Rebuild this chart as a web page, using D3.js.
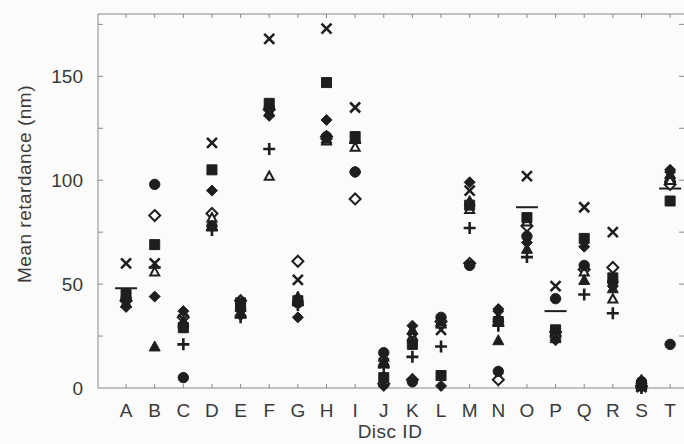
<!DOCTYPE html>
<html>
<head>
<meta charset="utf-8">
<script src="https://cdn.jsdelivr.net/npm/d3@7"></script>
<style>
  body { margin: 0; background: #fbfbfb; }
  text { font-family: "Liberation Sans", Arial, sans-serif; fill: #3a3a3a; }
</style>
</head>
<body>
<div id="chart"></div>
<script>
const ancho = 684;
const alto = 444;

const discos = ["A","B","C","D","E","F","G","H","I","J","K","L","M","N","O","P","Q","R","S","T"];

// one value per disc, per marker type
const cruz      = [60, 60, 33, 118, 40, 168, 52, 173, 135, 12, 24, 28, 95, 35, 102, 49, 87, 75, 0.5, 102];
const cuadrado  = [45, 69, 29, 105, 41, 137, 42, 147, 121, 5, 21, 6, 88, 32, 82, 28, 72, 53, 1, 90];
const rombo     = [39, 44, 37, 95, 35, 131, 34, 129, 104, 1, 30, 1, 99, 38, 70, 23, 68, 49, 2, 105];
const circulo   = [43, 98, 5, 78, 38, 135, 41, 121, 104, 17, 3, 34, 59, 8, 73, 43, 59, 51, 3, 21];
const triLleno  = [41, 20, 31, 78, 36, 133, 44, 120, 120, 13, 28, 32, 90, 23, 67, 24, 52, 48, 4, 103];
const triVacio  = [44, 56, 32, 82, 39, 102, 43, 119, 116, 15, 25, 31, 86, 34, 80, 26, 56, 43, 3, 100];
const romboVac  = [42, 83, 34, 84, 42, 134, 61, 121, 91, 2, 4, 32, 60, 4, 78, 27, 57, 58, 1, 98];
const mas       = [42, 58, 21, 76, 34, 115, 40, 120, 118, 10, 15, 20, 77, 30, 63, 25, 45, 36, 0, 99];
const raya      = [48, null, null, null, null, null, null, null, null, null, null, null, null, null, 87, 37, null, null, null, 96];

const series = [
  { tipo: "raya", valores: raya },
  { tipo: "mas", valores: mas },
  { tipo: "romboVac", valores: romboVac },
  { tipo: "triVacio", valores: triVacio },
  { tipo: "triLleno", valores: triLleno },
  { tipo: "circulo", valores: circulo },
  { tipo: "rombo", valores: rombo },
  { tipo: "cuadrado", valores: cuadrado },
  { tipo: "cruz", valores: cruz }
];

const izq = 98, der = 685, arriba = 14, abajo = 388;

const x = d3.scaleLinear().domain([-0.98, 19.52]).range([izq, der]);
const y = d3.scaleLinear().domain([0, 180]).range([abajo, arriba]);

const svg = d3.select("#chart").append("svg")
  .attr("width", ancho)
  .attr("height", alto);

svg.append("rect").attr("width", ancho).attr("height", alto).attr("fill", "#fbfbfb");

// frame
const gris = "#8a8a8a";
svg.append("rect")
  .attr("x", izq).attr("y", arriba)
  .attr("width", der - izq).attr("height", abajo - arriba)
  .attr("fill", "none").attr("stroke", gris).attr("stroke-width", 1);

const yTicks = d3.range(25, 180, 25);

// y ticks, left and right, pointing inward
svg.selectAll(".ytick-l").data(yTicks).enter().append("line")
  .attr("x1", izq).attr("x2", izq + 5)
  .attr("y1", d => y(d)).attr("y2", d => y(d))
  .attr("stroke", gris);
svg.selectAll(".ytick-r").data(yTicks).enter().append("line")
  .attr("x1", der).attr("x2", der - 6)
  .attr("y1", d => y(d)).attr("y2", d => y(d))
  .attr("stroke", gris);

// x ticks, top and bottom
svg.selectAll(".xtick-b").data(discos).enter().append("line")
  .attr("x1", (d, i) => x(i)).attr("x2", (d, i) => x(i))
  .attr("y1", abajo).attr("y2", abajo - 4)
  .attr("stroke", gris);
svg.selectAll(".xtick-t").data(discos).enter().append("line")
  .attr("x1", (d, i) => x(i)).attr("x2", (d, i) => x(i))
  .attr("y1", arriba).attr("y2", arriba + 4)
  .attr("stroke", gris);

// labels
svg.selectAll(".ylab").data([0, 50, 100, 150]).enter().append("text")
  .attr("x", 83).attr("y", d => y(d) + 7)
  .attr("text-anchor", "end")
  .attr("font-size", 19)
  .text(d => d);

svg.selectAll(".xlab").data(discos).enter().append("text")
  .attr("x", (d, i) => x(i)).attr("y", 417)
  .attr("text-anchor", "middle")
  .attr("font-size", 19)
  .text(d => d);

svg.append("text")
  .attr("x", 390).attr("y", 438)
  .attr("text-anchor", "middle")
  .attr("font-size", 19)
  .attr("letter-spacing", 0.5)
  .text("Disc ID");

svg.append("text")
  .attr("transform", "translate(31,184) rotate(-90)")
  .attr("text-anchor", "middle")
  .attr("font-size", 19)
  .attr("letter-spacing", 0.5)
  .text("Mean retardance (nm)");

// marker shapes
const tinta = "#1e1e1e";
function forma(tipo) {
  switch (tipo) {
    case "cruz": return "M-5,-5L5,5M-5,5L5,-5";
    case "mas": return "M-6,0L6,0M0,-6L0,6";
    case "raya": return "M-11,0L11,0";
    case "cuadrado": return "M-5,-5L5,-5L5,5L-5,5Z";
    case "rombo": case "romboVac": return "M0,-5.5L5.5,0L0,5.5L-5.5,0Z";
    case "circulo": return d3.symbol().type(d3.symbolCircle).size(85)();
    case "triLleno": return "M0,-5.5L5.5,4.5L-5.5,4.5Z";
    case "triVacio": return "M0,-4.5L4.5,3.8L-4.5,3.8Z";
  }
}

series.forEach(s => {
  const puntos = s.valores.map((v, i) => ({ v, i })).filter(d => d.v !== null);
  const hueco = s.tipo === "triVacio" || s.tipo === "romboVac";
  const lineal = s.tipo === "cruz" || s.tipo === "mas" || s.tipo === "raya";
  svg.selectAll(".m-" + s.tipo).data(puntos).enter().append("path")
    .attr("transform", d => `translate(${x(d.i)},${y(d.v)})`)
    .attr("d", forma(s.tipo))
    .attr("fill", lineal ? "none" : (hueco ? "#fbfbfb" : tinta))
    .attr("stroke", tinta)
    .attr("stroke-width", lineal ? (s.tipo === "raya" ? 2 : 2.6) : (hueco ? 2 : 1));
});
</script>
</body>
</html>
